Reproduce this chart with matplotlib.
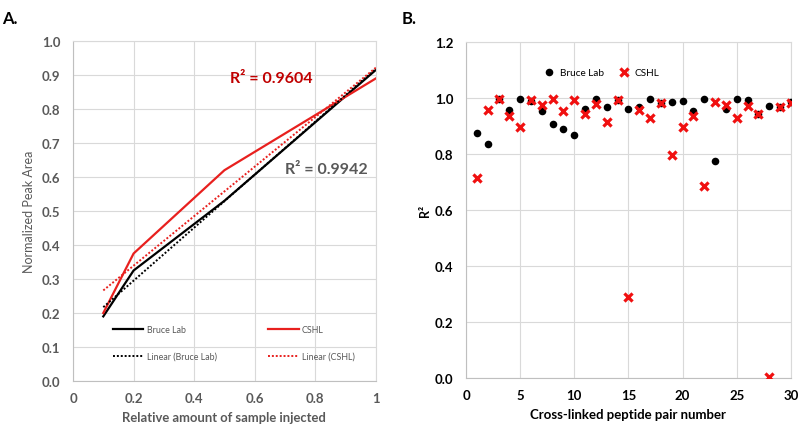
import matplotlib
matplotlib.use("Agg")
import matplotlib.pyplot as plt
import numpy as np

# ---- Panel A data ----
amount = [0.1, 0.2, 0.5, 1.0]
bruce_area = [0.19, 0.325, 0.53, 0.915]
cshl_area = [0.20, 0.375, 0.62, 0.89]
r2_bruce_text = "R\u00b2 = 0.9942"
r2_cshl_text = "R\u00b2 = 0.9604"

# ---- Panel B data ----
pair_number = list(range(1, 31))
bruce_r2 = [0.875, 0.838, 0.998, 0.957, 0.998, 0.990, 0.956, 0.907, 0.889, 0.868,
            0.963, 0.997, 0.968, 0.993, 0.960, 0.970, 0.998, 0.982, 0.985, 0.990,
            0.954, 0.999, 0.775, 0.960, 0.999, 0.994, 0.945, 0.973, 0.968, 0.985]
cshl_r2 = [0.714, 0.958, 0.999, 0.937, 0.898, 0.993, 0.977, 0.996, 0.956, 0.992,
           0.945, 0.980, 0.916, 0.995, 0.288, 0.958, 0.930, 0.982, 0.796, 0.898,
           0.936, 0.688, 0.988, 0.976, 0.930, 0.973, 0.944, 0.002, 0.968, 0.984]

plt.rcParams['font.family'] = ['Lato', 'DejaVu Sans']
GREY = '#595959'
GRID = '#D9D9D9'
RED_LINE = '#E8201E'
DARK_RED = '#C00000'

fig = plt.figure(figsize=(7.98, 4.27), dpi=100)

# ================= Panel A =================
axA = fig.add_axes([0.0915, 0.1054, 0.3795, 0.7962])
axA.plot(amount, bruce_area, color='black', lw=1.6, label='Bruce Lab')
axA.plot(amount, cshl_area, color=RED_LINE, lw=1.6, label='CSHL')
xfit = np.array([min(amount), max(amount)])
pb = np.polyfit(amount, bruce_area, 1)
pc = np.polyfit(amount, cshl_area, 1)
axA.plot(xfit, np.polyval(pb, xfit), color='black', lw=1.4, ls=(0, (1, 1)), label='Linear (Bruce Lab)')
axA.plot(xfit, np.polyval(pc, xfit), color=RED_LINE, lw=1.4, ls=(0, (1, 1)), label='Linear (CSHL)')
axA.set_xlim(0, 1)
axA.set_ylim(0, 1.0)
axA.set_xticks([0, 0.2, 0.4, 0.6, 0.8, 1.0])
axA.set_xticklabels(['0', '0.2', '0.4', '0.6', '0.8', '1'])
axA.set_yticks(np.arange(0, 1.01, 0.1))
axA.set_yticklabels([f"{v:.1f}" for v in np.arange(0, 1.01, 0.1)])
axA.grid(True, color=GRID, lw=0.8)
axA.set_axisbelow(True)
for s in axA.spines.values():
    s.set_color(GRID)
    s.set_linewidth(0.8)
axA.spines['left'].set_color('#BFBFBF')
axA.spines['bottom'].set_color('#BFBFBF')
axA.tick_params(length=0, labelsize=9.5, labelcolor=GREY)
axA.tick_params(axis='y', pad=9)
axA.tick_params(axis='x', pad=8)
for t in axA.get_xticklabels() + axA.get_yticklabels():
    t.set_fontweight('bold')
axA.set_xlabel('Relative amount of sample injected', fontsize=9.4, fontweight='bold', color=GREY, labelpad=5)
axA.set_ylabel('Normalized Peak Area', fontsize=9, color=GREY, labelpad=5)
axA.text(0.52, 0.89, r2_cshl_text, color=DARK_RED, fontsize=11.5, fontweight='bold', va='center', ha='left')
axA.text(0.70, 0.624, r2_bruce_text, color=GREY, fontsize=11.5, fontweight='bold', va='center', ha='left')
h, l = axA.get_legend_handles_labels()
order = [0, 2, 1, 3]
legA = axA.legend([h[i] for i in order], [l[i] for i in order], ncol=2, loc='lower left',
                  bbox_to_anchor=(0.132, 0.059), frameon=False, fontsize=6.4,
                  handlelength=3.4, columnspacing=5.8, labelspacing=2.0, handletextpad=0.4,
                  borderpad=0, borderaxespad=0)
for t in legA.get_texts():
    t.set_color(GREY)

fig.text(0.003, 0.975, 'A.', fontsize=12, fontweight='bold', ha='left', va='top')

# ================= Panel B =================
axB = fig.add_axes([0.584, 0.1124, 0.407, 0.7862])
axB.scatter(pair_number, bruce_r2, s=30, color='black', zorder=3, label='Bruce Lab', linewidths=0)
axB.scatter(pair_number, cshl_r2, s=34, marker='x', color='#F01010', linewidths=2.3, zorder=4, label='CSHL')
axB.set_xlim(0, 30)
axB.set_ylim(0, 1.2)
axB.set_xticks(range(0, 31, 5))
axB.set_yticks(np.arange(0, 1.21, 0.2))
axB.set_yticklabels([f"{v:.1f}" for v in np.arange(0, 1.21, 0.2)])
axB.grid(True, color=GRID, lw=0.8)
axB.set_axisbelow(True)
for s in axB.spines.values():
    s.set_color(GRID)
    s.set_linewidth(0.8)
axB.spines['left'].set_color('#BFBFBF')
axB.spines['bottom'].set_color('#BFBFBF')
axB.tick_params(length=0, labelsize=9.5, labelcolor='black')
axB.tick_params(axis='y', pad=9)
axB.tick_params(axis='x', pad=8)
for t in axB.get_xticklabels() + axB.get_yticklabels():
    t.set_fontweight('bold')
axB.set_xlabel('Cross-linked peptide pair number', fontsize=9.5, fontweight='bold', labelpad=5)
axB.set_ylabel('R\u00b2', fontsize=9, fontweight='bold', labelpad=3)
legB = axB.legend(loc='center', bbox_to_anchor=(0.41, 0.91), ncol=2, frameon=False, fontsize=7.2,
                  handletextpad=0.1, columnspacing=1.0, markerscale=1.0)

fig.text(0.503, 0.975, 'B.', fontsize=12, fontweight='bold', ha='left', va='top')

fig.savefig('out.png', dpi=100)
